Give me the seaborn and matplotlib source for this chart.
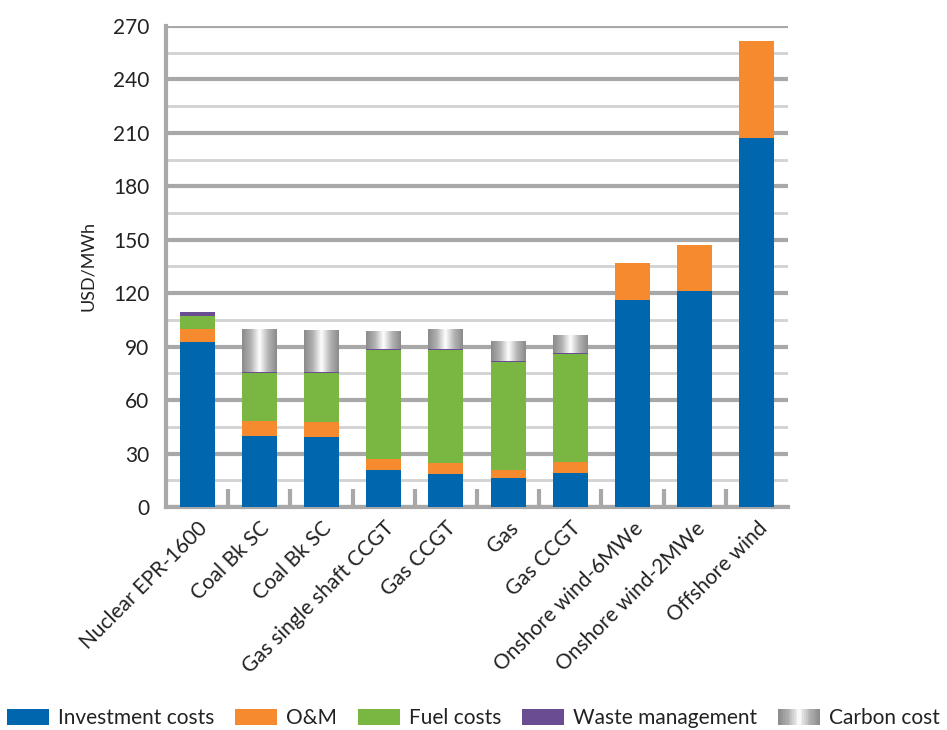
import numpy as np
import pandas as pd
import matplotlib
matplotlib.use("Agg")
import matplotlib.pyplot as plt
import seaborn as sns
from matplotlib.colors import LinearSegmentedColormap
from matplotlib.legend_handler import HandlerBase
from matplotlib.patches import Rectangle, Patch

# data (USD/MWh)
technologies = ["Nuclear EPR-1600", "Coal Bk SC", "Coal Bk SC", "Gas single shaft CCGT",
                "Gas CCGT", "Gas", "Gas CCGT", "Onshore wind-6MWe", "Onshore wind-2MWe",
                "Offshore wind"]
investment = [92.6, 39.7, 39.1, 20.6, 18.4, 16.1, 18.9, 116.1, 121.1, 207.0]
om = [7.2, 8.4, 8.6, 6.2, 6.1, 4.7, 6.4, 20.7, 26.2, 54.5]
fuel = [7.4, 27.2, 27.4, 61.2, 63.7, 60.7, 60.7, 0.0, 0.0, 0.0]
waste = [2.3, 0.6, 0.6, 0.6, 0.6, 0.6, 0.6, 0.0, 0.0, 0.0]
carbon = [0.0, 23.9, 23.5, 10.0, 11.0, 10.9, 9.9, 0.0, 0.0, 0.0]

layers = [("Investment costs", investment, "#0066ae"),
          ("O&M", om, "#f58a2e"),
          ("Fuel costs", fuel, "#7ab642"),
          ("Waste management", waste, "#6a4c93"),
          ("Carbon cost", carbon, "#a0a0a0")]

keys = [str(i) for i in range(len(technologies))]

plt.rcParams['font.family'] = ['Lato', 'DejaVu Sans']

fig = plt.figure(figsize=(9.47, 7.3), dpi=100)
ax = fig.add_axes([0.1753, 0.3055, 0.6568, 0.6589])

gray_cmap = LinearSegmentedColormap.from_list(
    "cyl", ["#8a8a8a", "#b0b0b0", "#ffffff", "#b4b4b4", "#8a8a8a"])
grad = np.linspace(0, 1, 256).reshape(1, -1)

bottom = np.zeros(len(keys))
for name, vals, color in layers:
    df = pd.DataFrame({"key": keys, "value": vals})
    n_before = len(ax.patches)
    sns.barplot(data=df, x="key", y="value", color=color, bottom=bottom.copy(),
                errorbar=None, width=0.56, saturation=1, linewidth=0, ax=ax, zorder=3)
    if name == "Carbon cost":
        for p in ax.patches[n_before:]:
            if p.get_height() <= 0:
                continue
            x0, w = p.get_x(), p.get_width()
            y0, h = p.get_y(), p.get_height()
            ax.imshow(grad, cmap=gray_cmap, aspect="auto", zorder=4,
                      extent=(x0, x0 + w, y0, y0 + h), interpolation="bicubic")
    bottom += np.array(vals)

ax.set_xlim(-0.5, len(keys) - 0.5)
ax.set_ylim(0, 270)
ax.set_yticks(np.arange(0, 271, 30))
ax.set_yticks(np.arange(15, 271, 30), minor=True)
ax.set_xticks(range(len(keys)))
ax.set_xticklabels(technologies, rotation=45, ha="right", rotation_mode="anchor")
ax.set_xticks(np.arange(0.5, len(keys) - 1, 1.0), minor=True)

ax.grid(axis="y", which="major", color="#a8a8a8", linewidth=3, zorder=0)
ax.grid(axis="y", which="minor", color="#d2d2d2", linewidth=2, zorder=0)
ax.set_axisbelow(True)

ax.tick_params(axis="y", which="both", length=0, labelsize=15, pad=12, colors="#222222")
ax.tick_params(axis="x", which="major", length=0, labelsize=15, pad=8, colors="#222222")
ax.tick_params(axis="x", which="minor", length=13, width=3, direction="in", color="#a8a8a8")

for s in ["top", "right"]:
    ax.spines[s].set_visible(False)
for s in ["left", "bottom"]:
    ax.spines[s].set_color("#a8a8a8")
    ax.spines[s].set_linewidth(3)

ax.set_xlabel("")
ax.set_ylabel("USD/MWh", fontsize=13, labelpad=12, color="#222222")


class GradientHandler(HandlerBase):
    def create_artists(self, legend, orig_handle, xdescent, ydescent,
                       width, height, fontsize, trans):
        n = 24
        arts = []
        for i in range(n):
            c = gray_cmap((i + 0.5) / n)
            arts.append(Rectangle((-xdescent + i * width / n, -ydescent), width / n + 0.3, height,
                                  facecolor=c, edgecolor="none", transform=trans))
        return arts


handles = [Patch(facecolor=c, edgecolor="none") for _, _, c in layers]
handler_map = {handles[-1]: GradientHandler()}
fig.legend(handles, [n for n, _, _ in layers], loc="lower center", ncol=5,
           bbox_to_anchor=(0.5, -0.009), frameon=False, fontsize=15,
           handlelength=2.0, handleheight=0.8, handletextpad=0.45, columnspacing=1.0,
           borderaxespad=0.2, borderpad=0.2,
           handler_map=handler_map, labelcolor="#222222")

fig.savefig("out.png", dpi=100)
